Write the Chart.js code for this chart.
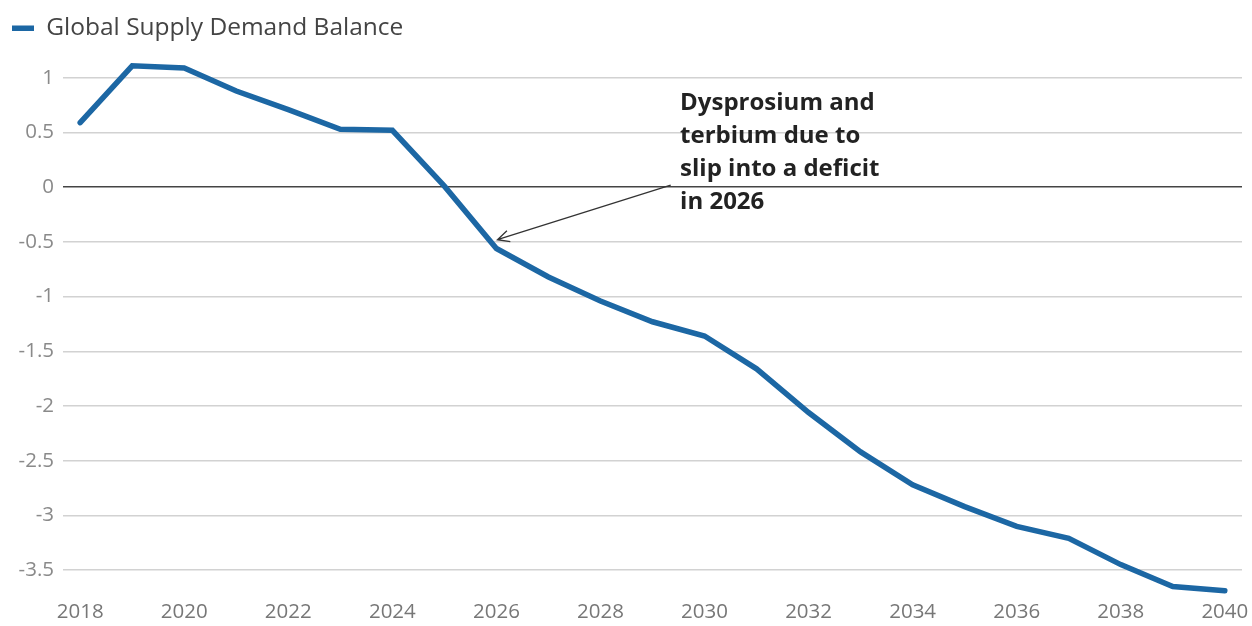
<!DOCTYPE html>
<html>
<head>
<meta charset="utf-8">
<script src="https://cdn.jsdelivr.net/npm/chart.js@4.4.1/dist/chart.umd.min.js"></script>
<style>
  html, body { margin: 0; padding: 0; background: #fff; }
  #wrap { width: 1252px; height: 626px; }
</style>
</head>
<body>
<div id="wrap"><canvas id="balanceChart"></canvas></div>
<script>
const years = [2018, 2019, 2020, 2021, 2022, 2023, 2024, 2025, 2026, 2027, 2028,
               2029, 2030, 2031, 2032, 2033, 2034, 2035, 2036, 2037, 2038, 2039, 2040];
const balance = [0.59, 1.11, 1.09, 0.88, 0.71, 0.53, 0.52, 0.01, -0.56, -0.82, -1.04,
                 -1.23, -1.36, -1.66, -2.06, -2.42, -2.72, -2.92, -3.10, -3.21, -3.45, -3.65, -3.69];
const seriesName = "Global Supply Demand Balance";
const noteLines = ["Dysprosium and", "terbium due to", "slip into a deficit", "in 2026"];

// annotation: text + arrow pointing at the 2026 point
const notePlugin = {
    id: "note",
    afterDatasetsDraw(chart) {
        const ctx = chart.ctx;
        const x = chart.scales.x;
        const y = chart.scales.y;
        ctx.save();
        ctx.font = "bold 24px 'Open Sans'";
        ctx.fillStyle = "#222";
        ctx.textBaseline = "middle";
        const tx = x.getPixelForValue(2029.53);
        const ty = y.getPixelForValue(0.765);
        noteLines.forEach((t, i) => ctx.fillText(t, tx, ty + i * 33));

        const x0 = x.getPixelForValue(2029.35), y0 = y.getPixelForValue(0.02);
        const x1 = x.getPixelForValue(2026.02), y1 = y.getPixelForValue(-0.48);
        ctx.strokeStyle = "#333";
        ctx.lineWidth = 1.3;
        ctx.beginPath();
        ctx.moveTo(x0, y0);
        ctx.lineTo(x1, y1);
        const a = Math.atan2(y0 - y1, x0 - x1);
        const h = 13;
        ctx.moveTo(x1 + h * Math.cos(a - 0.45), y1 + h * Math.sin(a - 0.45));
        ctx.lineTo(x1, y1);
        ctx.lineTo(x1 + h * Math.cos(a + 0.45), y1 + h * Math.sin(a + 0.45));
        ctx.stroke();
        ctx.restore();
    }
};

new Chart(document.getElementById("balanceChart"), {
    type: "line",
    data: {
        datasets: [{
            label: seriesName,
            data: years.map((yr, i) => ({ x: yr, y: balance[i] })),
            borderColor: "#1c67a4",
            backgroundColor: "#1c67a4",
            borderWidth: 5.5,
            borderCapStyle: "round",
            pointRadius: 0,
            tension: 0
        }]
    },
    options: {
        responsive: true,
        maintainAspectRatio: false,
        animation: false,
        layout: { padding: { left: 2, right: 10, top: 6, bottom: 0 } },
        plugins: {
            tooltip: { enabled: false },
            legend: {
                position: "top",
                align: "start",
                labels: {
                    usePointStyle: true,
                    pointStyle: "line",
                    pointStyleWidth: 22,
                    boxHeight: 8,
                    padding: 10,
                    color: "#444",
                    font: { family: "Open Sans", size: 24.5, lineHeight: 1.0 }
                }
            }
        },
        scales: {
            x: {
                type: "linear",
                min: 2017.67,
                max: 2040.33,
                grid: { display: false, drawTicks: false },
                border: { display: false },
                ticks: {
                    stepSize: 2,
                    includeBounds: false,
                    maxRotation: 0,
                    padding: 3.5,
                    color: "#777",
                    font: { family: "Open Sans", size: 20.5, lineHeight: 1.0 },
                    callback: v => String(v)
                }
            },
            y: {
                min: -3.76,
                max: 1.25,
                afterFit: s => { s.width = 61; },
                grid: {
                    drawTicks: false,
                    lineWidth: 1.5,
                    color: c => c.tick && c.tick.value === 0 ? "#444" : "#d2d2d2"
                },
                border: { display: false },
                ticks: {
                    stepSize: 0.5,
                    includeBounds: false,
                    padding: 9,
                    color: "#8a8a8a",
                    font: { family: "Open Sans", size: 20.5 },
                    callback: v => String(v)
                }
            }
        }
    },
    plugins: [notePlugin]
});
</script>
</body>
</html>
